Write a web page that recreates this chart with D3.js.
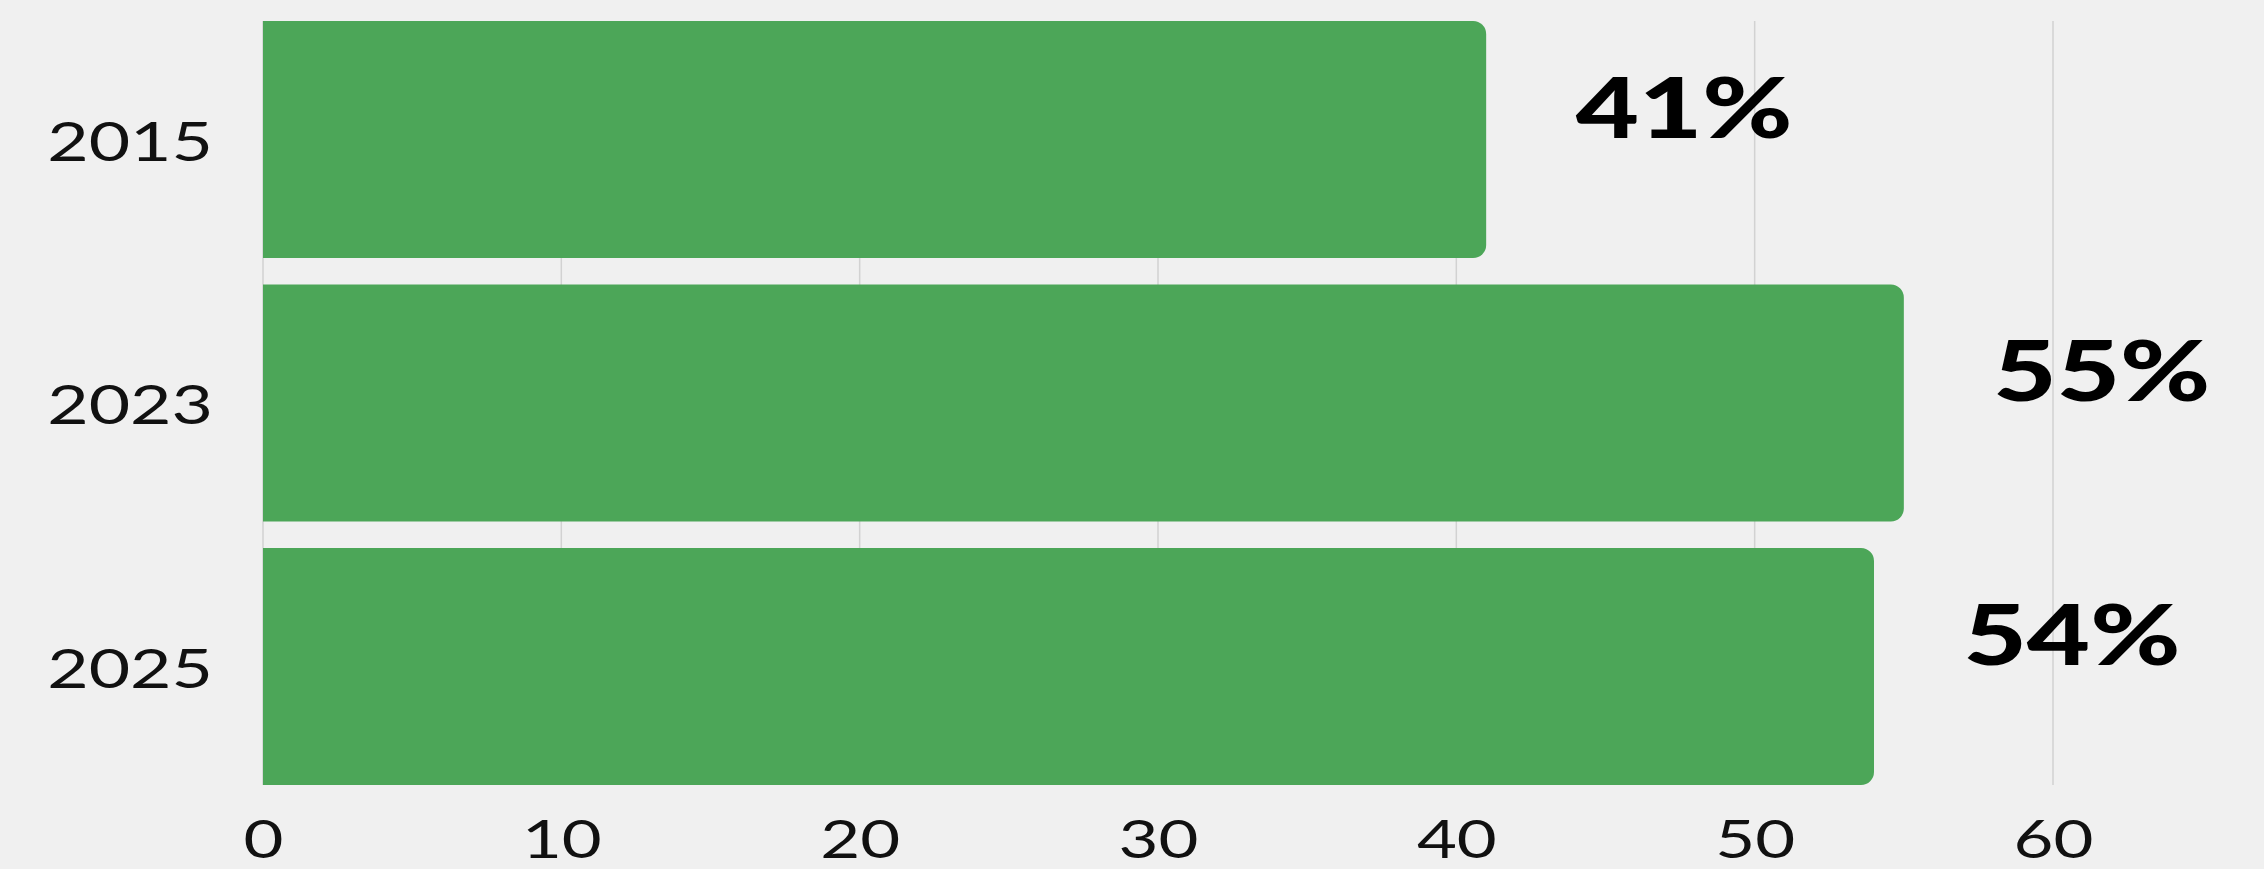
<!DOCTYPE html>
<html>
<head>
<meta charset="utf-8">
<script src="https://cdn.jsdelivr.net/npm/d3@7"></script>
<style>
  html, body { margin: 0; padding: 0; background: #f0f0f0; }
  svg { display: block; }
</style>
</head>
<body>
<svg id="chart" width="2264" height="869"></svg>
<script>
// ---- data ----
const categories = ["2015", "2023", "2025"];
const values = [41, 55, 54];
const valueLabels = ["41%", "55%", "54%"];
const xTicks = [0, 10, 20, 30, 40, 50, 60];

// ---- layout ----
const W = 2264, H = 869;
const plot = { left: 263, right: 2053, top: 21, bottom: 785 };
const barColor = "#4ca658";
const gridColor = "#d2d2d2";
const textColor = "#111111";

const svg = d3.select("#chart");
svg.append("rect").attr("width", W).attr("height", H).attr("fill", "#f0f0f0");

const x = d3.scaleLinear().domain([0, 60]).range([plot.left, plot.right]);
const y = d3.scaleBand().domain(categories).range([plot.top, plot.bottom])
  .paddingInner(0.1).paddingOuter(0);

// gridlines
svg.append("g").selectAll("line").data(xTicks).join("line")
  .attr("x1", d => x(d)).attr("x2", d => x(d))
  .attr("y1", plot.top).attr("y2", plot.bottom)
  .attr("stroke", gridColor).attr("stroke-width", 1.5);

// bars with rounded right corners
const r = 13;
function barPath(x0, x1, y0, h) {
  const rr = Math.min(r, (x1 - x0) / 2, h / 2);
  return `M${x0},${y0}H${x1 - rr}A${rr},${rr} 0 0 1 ${x1},${y0 + rr}` +
         `V${y0 + h - rr}A${rr},${rr} 0 0 1 ${x1 - rr},${y0 + h}H${x0}Z`;
}
const data = categories.map((c, i) => ({ c, v: values[i], label: valueLabels[i] }));
svg.append("g").selectAll("path").data(data).join("path")
  .attr("d", d => barPath(x(0), x(d.v), y(d.c), y.bandwidth()))
  .attr("fill", barColor);

// value labels
svg.append("g").selectAll("text").data(data).join("text")
  .attr("transform", d => `translate(${x(d.v) + 198},${y(d.c) + y.bandwidth() / 2 - 34}) scale(1.3,1)`)
  .attr("text-anchor", "middle")
  .attr("dominant-baseline", "central")
  .attr("font-family", "Lato, 'Open Sans', sans-serif")
  .attr("font-weight", 900)
  .attr("font-size", 84)
  .attr("fill", "#000")
  .text(d => d.label);

// y axis labels
const yAxis = d3.axisLeft(y).tickSize(0).tickPadding(0);
const gy = svg.append("g").attr("transform", `translate(${plot.left - 50},0)`).call(yAxis);
gy.select(".domain").remove();
gy.selectAll(".tick text")
  .attr("x", 0).attr("dy", null)
  .attr("dominant-baseline", "central")
  .attr("text-anchor", "end")
  .attr("transform", "scale(1.3,1)")
  .attr("font-family", "Lato, sans-serif")
  .attr("font-weight", 400)
  .attr("font-size", 55)
  .attr("fill", textColor);

// x axis labels
const xAxis = d3.axisBottom(x).tickValues(xTicks).tickSize(0).tickPadding(0).tickFormat(d3.format("d"));
const gx = svg.append("g").attr("transform", `translate(0,858)`).call(xAxis);
gx.select(".domain").remove();
gx.selectAll(".tick text")
  .attr("y", 0).attr("dy", null)
  .attr("dominant-baseline", "alphabetic")
  .attr("text-anchor", "middle")
  .attr("transform", "scale(1.3,1)")
  .attr("font-family", "Lato, sans-serif")
  .attr("font-weight", 400)
  .attr("font-size", 53)
  .attr("fill", textColor);
</script>
</body>
</html>
